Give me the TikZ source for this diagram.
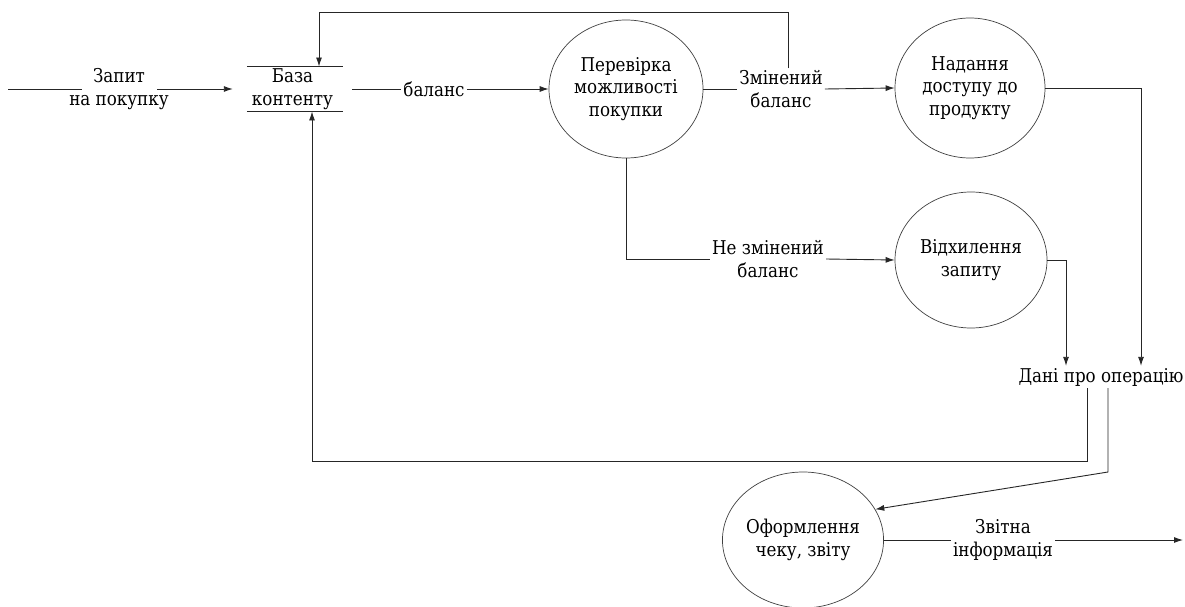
\documentclass[tikz,border=0pt]{standalone}
\usepackage{fontspec}
\setmainfont{DejaVu Serif}[FakeStretch=0.88]
\usetikzlibrary{arrows.meta,shapes.geometric}
\begin{document}
\begin{tikzpicture}[x=1pt,y=-1pt,
  flow/.style={line width=0.9pt, draw=black!85},
  arr/.style={flow, -{Latex[length=9pt,width=6pt]}},
  proc/.style={ellipse, draw=black!75, line width=0.7pt, inner sep=0pt,
    align=center, font=\fontsize{19}{22.5}\selectfont},
  lbl/.style={align=center, inner sep=2pt, font=\fontsize{19}{22.5}\selectfont},
]
\useasboundingbox (0,0) rectangle (1185,607);

% processes
\node[proc, minimum width=154pt, minimum height=138pt] (check)   at (626,89)  {Перевірка\\можливості\\покупки};
\node[proc, minimum width=150pt, minimum height=140pt] (access)  at (970,88)  {Надання\\доступу до\\продукту};
\node[proc, minimum width=152pt, minimum height=136pt] (reject)  at (971,260) {Відхилення\\запиту};
\node[proc, minimum width=144pt, minimum height=136pt] (receipt) at (803,540) {Оформлення\\чеку, звіту};

% data store
\node[lbl, minimum width=119pt, minimum height=40pt] (store) at (292.5,89) {База\\контенту};
\draw[flow] ([xshift=14pt]store.north west) -- ([xshift=-9pt]store.north east);
\draw[flow] ([xshift=14pt]store.south west) -- ([xshift=-9pt]store.south east);

% flow labels
\node[lbl] (req)  at (119,89)  {Запит\\на покупку};
\node[lbl] (bal)  at (434,89)  {баланс};
\node[lbl] (chg)  at (781,89)  {Змінений\\баланс};
\node[lbl] (nchg) at (768,259) {Не змінений\\баланс};
\node[lbl] (data) at (1101,377) {Дані про операцію};
\node[lbl] (rep)  at (1003,540) {Звітна\\інформація};

% free ends and bends
\coordinate (in0)   at (8,89);
\coordinate (out0)  at (1183,540);
\coordinate (loopT) at (319,12);
\coordinate (loopB) at (312,461);
\coordinate (bend)  at (1108,472);

% connectors
\draw[flow] (in0) -- ([xshift=-37pt]req.center);
\draw[arr] ([xshift=38pt]req.center) -- (store.west);
\draw[flow] (store.east) -- (bal.west);
\draw[arr] (bal.east) -- (check.west);
\draw[flow] (check.east) -- (chg.west);
\draw[arr] (chg.east) -- (access.west);
\draw[arr] ([xshift=7pt]chg.north) |- (loopT) -- (loopT |- store.north);
\draw[flow] (check.south) |- (nchg.west);
\draw[arr] (nchg.east) -- (reject.west);
\draw[arr] (access.east) -| ([xshift=40pt]data.north);
\draw[arr] (reject.east) -| ([xshift=-35pt]data.north);
\draw[arr] ([xshift=-14pt]data.south) |- (loopB) -- (loopB |- store.south);
\draw[arr] ([xshift=7pt]data.south) -- (bend) -- (receipt.23);
\draw[flow] (receipt.east) -- (rep.west);
\draw[arr] (rep.east) -- (out0);
\end{tikzpicture}
\end{document}
